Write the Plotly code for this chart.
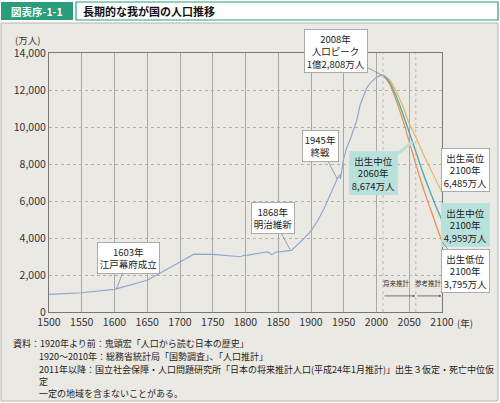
import plotly.graph_objects as go

# 歴史的人口（万人）
hist_years = [1500, 1550, 1600, 1650, 1700, 1721, 1750, 1786, 1792, 1798, 1804, 1822, 1828, 1834,
              1840, 1846, 1870, 1880, 1890, 1900, 1910, 1920, 1930, 1940, 1944, 1945, 1950, 1955,
              1960, 1965, 1970, 1975, 1980, 1985, 1990, 1995, 2000, 2005, 2008, 2010]
hist_pop = [950, 1040, 1227, 1718, 2700, 3128, 3110, 3010, 2987, 3065, 3070, 3191, 3226, 3248,
            3100, 3230, 3330, 3650, 3990, 4385, 4918, 5596, 6445, 7193, 7433, 7199, 8320, 8928,
            9342, 9828, 10372, 11194, 11706, 12105, 12361, 12557, 12693, 12777, 12808, 12806]

# 将来推計（出生3仮定・死亡中位）
proj_years = [2010, 2020, 2030, 2040, 2050, 2060, 2070, 2080, 2090, 2100]
proj_high = [12806, 12540, 11950, 11140, 10190, 9460, 8650, 7900, 7180, 6485]
proj_mid = [12806, 12410, 11662, 10728, 9708, 8674, 7620, 6670, 5770, 4959]
proj_low = [12806, 12320, 11440, 10400, 9200, 7997, 6840, 5800, 4800, 3795]

x_ticks = list(range(1500, 2101, 50))
y_ticks = list(range(0, 14001, 2000))

W, H = 500, 403
L, R, T, B = 49, 58, 53, 91
PW, PH = W - L - R, H - T - B


def px(x):
    return (x - L) / PW


def py(y):
    return (H - B - y) / PH


FONT = "Noto Sans CJK JP"
TEAL = "#2a9d7c"

fig = go.Figure()
fig.add_trace(go.Scatter(x=hist_years, y=hist_pop, mode="lines",
                         line=dict(color="#8ca9cc", width=1.2), hoverinfo="skip"))
fig.add_trace(go.Scatter(x=proj_years, y=proj_high, mode="lines", line_shape="spline",
                         line=dict(color="#e9b466", width=1.2), hoverinfo="skip"))
fig.add_trace(go.Scatter(x=proj_years, y=proj_low, mode="lines", line_shape="spline",
                         line=dict(color="#ea8c48", width=1.2), hoverinfo="skip"))
fig.add_trace(go.Scatter(x=proj_years, y=proj_mid, mode="lines", line_shape="spline",
                         line=dict(color="#4fadb0", width=1.4), hoverinfo="skip"))

shapes = [
    # パネル
    dict(type="rect", xref="paper", yref="paper", x0=px(1), x1=px(498), y0=py(401), y1=py(23),
         fillcolor="#ebe9e3", line=dict(color="#b8b4ac", width=1), layer="below"),
    # ヘッダー
    dict(type="rect", xref="paper", yref="paper", x0=px(76), x1=px(498), y0=py(20), y1=py(2),
         fillcolor="white", line=dict(color=TEAL, width=1.2), layer="below"),
    dict(type="rect", xref="paper", yref="paper", x0=px(1), x1=px(73), y0=py(20), y1=py(2),
         fillcolor=TEAL, line=dict(width=0), layer="below"),
    # 2010年・2060年の点線
    dict(type="line", xref="x", yref="y", x0=2010, x1=2010, y0=0, y1=14000,
         line=dict(color="#c9b3bb", width=1, dash="dot")),
    dict(type="line", xref="x", yref="y", x0=2060, x1=2060, y0=0, y1=14000,
         line=dict(color="#c9b3bb", width=1, dash="dot")),
]

box = dict(font=dict(family=FONT, size=9.5, color="#222"), showarrow=True, arrowhead=0,
           arrowwidth=0.8, arrowcolor="#888", bgcolor="white", bordercolor="#999",
           borderwidth=0.8, borderpad=2, align="center")
teal_box = dict(box, bgcolor="#b8e1db", bordercolor="#b8e1db", arrowcolor="#b8e1db", arrowwidth=3)


def note(x, y, text, size=9, anchor="left", color="#222"):
    return dict(xref="paper", yref="paper", x=px(x), y=py(y), xanchor=anchor, yanchor="middle",
                text=text, showarrow=False, font=dict(family=FONT, size=size, color=color))


annotations = [
    dict(box, x=1603, y=1250, ax=12, ay=-31, text="1603年<br>江戸幕府成立"),
    dict(box, x=1868, y=3380, ax=-17, ay=-31, text="1868年<br>明治維新"),
    dict(box, x=1940, y=7193, ax=-17, ay=-33, text="1945年<br>終戦"),
    dict(box, x=2008, y=12808, ax=-46, ay=-24, text="2008年<br>人口ピーク<br>1億2,808万人"),
    dict(teal_box, x=2055, y=9193, ax=-39, ay=31, text="出生中位<br>2060年<br>8,674万人"),
    dict(box, x=2100, y=6485, ax=23, ay=-22, text="出生高位<br>2100年<br>6,485万人"),
    dict(teal_box, x=2100, y=4959, ax=23, ay=5, text="出生中位<br>2100年<br>4,959万人",
         arrowwidth=1.5),
    dict(box, x=2100, y=3795, ax=23, ay=29, text="出生低位<br>2100年<br>3,795万人"),
    # 推計区間の矢印
    dict(x=2059, y=870, ax=2010, ay=870, axref="x", ayref="y", showarrow=True, arrowhead=2,
         arrowsize=0.6, arrowwidth=0.8, arrowcolor="#555", text=""),
    dict(x=2099, y=870, ax=2060, ay=870, axref="x", ayref="y", showarrow=True, arrowhead=2,
         arrowsize=0.6, arrowwidth=0.8, arrowcolor="#555", text=""),
    dict(x=2031, y=1560, text="将来推計", showarrow=False, xanchor="center", yanchor="middle",
         font=dict(family=FONT, size=6.5, color="#333")),
    dict(x=2079, y=1560, text="参考推計", showarrow=False, xanchor="center", yanchor="middle",
         font=dict(family=FONT, size=6.5, color="#333")),
    # 見出し・単位
    note(37, 11, "<b>図表序-1-1</b>", size=10.5, anchor="center", color="white"),
    note(81, 11, "<b>長期的な我が国の人口推移</b>", size=11, color="#111"),
    note(27, 40, "(万人)", size=9.5, anchor="center", color="#333"),
    note(455, 323, "(年)", size=9.5, color="#333"),
    # 資料
    note(11, 343, "資料：1920年より前：鬼頭宏「人口から読む日本の歴史」"),
    note(37, 356, "1920～2010年：総務省統計局「国勢調査」、「人口推計」"),
    note(37, 369, "2011年以降：国立社会保障・人口問題研究所「日本の将来推計人口(平成24年1月推計)」出生３仮定・死亡中位仮"),
    note(37, 381, "定"),
    note(37, 393, "一定の地域を含まないことがある。"),
]

fig.update_layout(
    width=W, height=H,
    margin=dict(l=L, r=R, t=T, b=B),
    paper_bgcolor="white",
    plot_bgcolor="white",
    showlegend=False,
    font=dict(family=FONT, color="#333"),
    shapes=shapes,
    annotations=annotations,
    xaxis=dict(range=[1500, 2100], tickvals=x_ticks, ticks="", showgrid=True, gridcolor="#a8a8a8",
               gridwidth=1, showline=True, mirror=True, linecolor="#777", linewidth=1.2,
               tickfont=dict(family=FONT, size=10.5, color="#333"), zeroline=False, fixedrange=True),
    yaxis=dict(range=[0, 14000], tickvals=y_ticks, tickformat=",d", ticks="", showgrid=True,
               gridcolor="#b0b0b0", griddash="dot", gridwidth=1, showline=True, mirror=True,
               linecolor="#777", linewidth=1.2, tickfont=dict(family=FONT, size=10.5, color="#333"),
               zeroline=False, fixedrange=True),
)

fig.write_html("out.html", config={"displayModeBar": False},
               post_script="document.body.style.margin='0px';")
